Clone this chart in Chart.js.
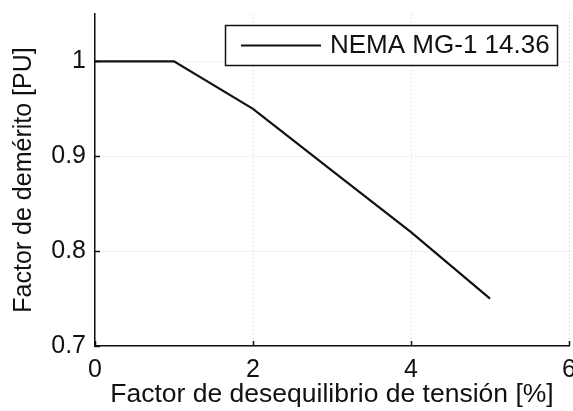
<!DOCTYPE html>
<html>
<head>
<meta charset="utf-8">
<script src="https://cdn.jsdelivr.net/npm/chart.js@4.4.1/dist/chart.umd.min.js"></script>
<style>
html,body{margin:0;padding:0;background:#fff;}
#wrap{width:573px;height:411px;position:relative;}
</style>
</head>
<body>
<div id="wrap"><canvas id="c" width="573" height="411"></canvas></div>
<script>
const xValues = [0, 1, 2, 3, 4, 5];
const yValues = [1.0, 1.0, 0.95, 0.885, 0.82, 0.75];
const seriesLabel = 'NEMA MG-1 14.36';
const xTicks = [0, 2, 4, 6];
const yTicks = [0.7, 0.8, 0.9, 1];
const xTitle = 'Factor de desequilibrio de tensión [%]';
const yTitle = 'Factor de demérito [PU]';

const FONT = '"Liberation Sans", Arial, Helvetica, sans-serif';

const legendBox = {
  id: 'legendBox',
  afterDatasetsDraw(chart) {
    const ctx = chart.ctx;
    ctx.save();
    const x0 = 225, y0 = 25, w = 332, h = 40;
    ctx.fillStyle = '#fff';
    ctx.fillRect(x0, y0, w, h);
    ctx.strokeStyle = '#111';
    ctx.lineWidth = 1.5;
    ctx.strokeRect(x0 + 0.5, y0 + 0.5, w, h);
    ctx.beginPath();
    ctx.moveTo(241, y0 + 20.5);
    ctx.lineTo(321, y0 + 20.5);
    ctx.lineWidth = 2;
    ctx.stroke();
    ctx.fillStyle = '#111';
    ctx.font = '26px ' + FONT;
    ctx.textBaseline = 'middle';
    ctx.textAlign = 'left';
    ctx.fillText(chart.data.datasets[0].label, 330, y0 + 21);
    ctx.restore();
  }
};

const innerTicks = {
  id: 'innerTicks',
  afterDatasetsDraw(chart) {
    const ctx = chart.ctx, a = chart.chartArea;
    const xs = chart.scales.x, ys = chart.scales.y;
    ctx.save();
    ctx.strokeStyle = '#111';
    ctx.lineWidth = 1.5;
    ctx.beginPath();
    xTicks.forEach(v => {
      const px = Math.round(xs.getPixelForValue(v)) + 0.5;
      ctx.moveTo(px, a.bottom); ctx.lineTo(px, a.bottom - 5);
    });
    yTicks.forEach(v => {
      const py = Math.round(ys.getPixelForValue(v)) + 0.5;
      ctx.moveTo(a.left, py); ctx.lineTo(a.left + 5, py);
    });
    ctx.stroke();
    ctx.restore();
  }
};

function noPad(s) { s.paddingTop = 0; s.paddingBottom = 0; s.paddingLeft = 0; s.paddingRight = 0; }

new Chart(document.getElementById('c'), {
  type: 'line',
  data: {
    datasets: [{
      label: seriesLabel,
      data: xValues.map((x, i) => ({x: x, y: yValues[i]})),
      borderColor: '#111',
      borderWidth: 2.2,
      pointRadius: 0,
      tension: 0,
      fill: false
    }]
  },
  options: {
    responsive: false,
    animation: false,
    devicePixelRatio: 1,
    layout: {padding: {left: 0, right: 4, top: 14, bottom: 0}},
    plugins: {legend: {display: false}, tooltip: {enabled: false}},
    scales: {
      x: {
        type: 'linear', min: 0, max: 6,
        afterBuildTicks(s) { s.ticks = xTicks.map(v => ({value: v})); },
        afterFit(s) { s.height = 65; noPad(s); },
        grid: {color: '#cfcfcf', lineWidth: 1, drawTicks: false},
        border: {display: true, color: '#111', width: 1.5, dash: [1, 3]},
        ticks: {color: '#111', font: {family: FONT, size: 25}, padding: 9, maxRotation: 0},
        title: {display: true, text: xTitle, color: '#111', font: {family: FONT, size: 26.5}, padding: {top: 0, bottom: 0}}
      },
      y: {
        type: 'linear', min: 0.7, max: 1.05,
        afterBuildTicks(s) { s.ticks = yTicks.map(v => ({value: v})); },
        afterFit(s) { s.width = 95; noPad(s); },
        grid: {color: '#cfcfcf', lineWidth: 1, drawTicks: false},
        border: {display: true, color: '#111', width: 1.5, dash: [1, 3]},
        ticks: {color: '#111', font: {family: FONT, size: 25}, padding: 9,
          callback: v => String(v)},
        title: {display: true, text: yTitle, color: '#111', font: {family: FONT, size: 25}, padding: {top: 9, bottom: 0}}
      }
    }
  },
  plugins: [innerTicks, legendBox]
});
</script>
</body>
</html>
